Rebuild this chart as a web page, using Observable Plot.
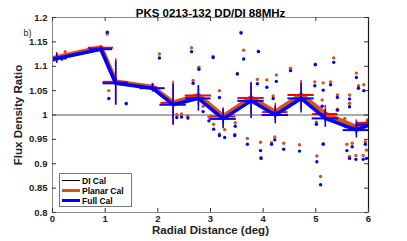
<!DOCTYPE html>
<html>
<head>
<meta charset="utf-8">
<script src="https://cdn.jsdelivr.net/npm/d3@7"></script>
<script src="https://cdn.jsdelivr.net/npm/@observablehq/plot@0.6"></script>
<style>
  html, body { margin: 0; padding: 0; background: #fff; }
  #wrap { position: relative; width: 407px; height: 241px; font-family: "Liberation Sans", Arial, sans-serif; }
  #legend { position: absolute; left: 59px; top: 173px; width: 73px; height: 34px; background: #fff; border: 1px solid #777; box-sizing: border-box; font: bold 8.5px "Liberation Sans", Arial, sans-serif; color: #000; }
  #legend .row { position: absolute; left: 2px; height: 10px; display: flex; align-items: center; }
  #legend .sw { width: 18px; margin-right: 2px; }
</style>
</head>
<body>
<div id="wrap"></div>
<script>
// ---- data ----
const title = "PKS 0213-132 DD/DI 88MHz";
const xLabel = "Radial Distance (deg)";
const yLabel = "Flux Density Ratio";
const panelTag = "b)";
const xTicks = [0, 1, 2, 3, 4, 5, 6];
const yTicks = [0.8, 0.85, 0.9, 0.95, 1, 1.05, 1.1, 1.15, 1.2];
const seriesNames = ["DI Cal", "Planar Cal", "Full Cal"];

// binned averages
const binX      = [0.0,   0.08,  0.92,  1.20,  1.90,  2.29,  2.77,  3.24,  3.77,  4.23,  4.72,  5.18,  5.77,  6.02];
const binFull   = [1.114, 1.116, 1.135, 1.065, 1.055, 1.021, 1.034, 0.992, 1.029, 1.000, 1.034, 0.993, 0.969, 0.980];
const binPlanar = [1.115, 1.118, 1.138, 1.068, 1.057, 1.025, 1.040, 0.997, 1.035, 1.006, 1.041, 1.002, 0.975, 0.984];
const errFull   = [0,     0.010, 0.004, 0.045, 0.008, 0.042, 0.026, 0.020, 0.036, 0.018, 0.030, 0.018, 0.016, 0.020];
const errPlanar = [0,     0.010, 0.004, 0.047, 0.008, 0.044, 0.020, 0.018, 0.032, 0.018, 0.030, 0.018, 0.015, 0.020];
const widFull   = [0,     0.07,  0.22,  0.24,  0.24,  0.25,  0.24,  0.25,  0.25,  0.25,  0.25,  0.25,  0.25,  0.25];
const widPlanar = [0,     0.06,  0.24,  0.24,  0.10,  0.23,  0.25,  0.24,  0.25,  0.24,  0.25,  0.24,  0.22,  0.25];

// individual sources
const srcX      = [0.02, 0.18, 0.24, 1.04, 1.07, 1.40, 1.90, 2.03, 2.36, 2.45, 2.57, 2.64, 2.67, 2.78, 2.86, 2.97, 3.05, 3.06, 3.17, 3.17, 3.27, 3.46, 3.47, 3.51, 3.58, 3.63, 3.70, 3.89, 3.91, 3.95, 3.96, 4.07, 4.16, 4.19, 4.22, 4.25, 4.39, 4.52, 4.69, 4.98, 4.99, 5.01, 5.02, 5.09, 5.12, 5.14, 5.14, 5.28, 5.34, 5.41, 5.41, 5.55, 5.59, 5.64, 5.64, 5.64, 5.69, 5.76, 5.77, 5.81, 5.90, 5.91, 5.94, 5.96, 5.98];
const srcPlanar = [1.113, 1.118, 1.130, 1.166, 1.050, 1.024, 1.062, 1.125, 1.001, 1.002, 0.998, 1.138, 1.071, 1.098, 1.018, 0.996, 1.120, 0.981, 1.050, 0.961, 0.970, 0.960, 0.984, 1.085, 1.170, 1.133, 0.952, 1.073, 1.131, 0.944, 0.913, 1.072, 0.943, 1.039, 0.955, 1.082, 0.942, 1.096, 0.939, 1.068, 1.104, 0.985, 0.916, 0.874, 1.031, 1.066, 0.941, 1.068, 1.117, 1.041, 1.012, 0.993, 0.940, 1.041, 1.024, 0.915, 0.942, 0.917, 1.086, 1.060, 0.917, 1.062, 0.945, 0.928, 0.990];
const srcFull   = [1.114, 1.115, 1.117, 1.170, 1.034, 1.023, 1.059, 1.117, 0.995, 0.996, 0.994, 1.130, 1.065, 1.094, 1.007, 0.988, 1.118, 0.971, 1.036, 0.958, 0.954, 0.958, 0.977, 1.084, 1.168, 1.115, 0.940, 1.064, 1.130, 0.927, 0.911, 1.057, 0.940, 1.034, 0.949, 1.069, 0.930, 1.091, 0.926, 1.060, 1.103, 0.981, 0.904, 0.857, 1.018, 1.051, 0.940, 1.062, 1.108, 1.036, 1.010, 0.986, 0.927, 1.033, 1.017, 0.911, 0.935, 0.909, 1.077, 1.055, 0.909, 1.050, 0.940, 0.911, 0.985];

// ---- tables ----
const bins = binX.map((x, i) => ({x, full: binFull[i], planar: binPlanar[i], ef: errFull[i], ep: errPlanar[i], wf: widFull[i], wp: widPlanar[i]}));
const srcs = srcX.map((x, i) => ({x, planar: srcPlanar[i], full: srcFull[i]}));
const barBins = bins.filter(d => d.ef > 0 || d.wf > 0);

const W = 407, H = 241, mL = 52, mR = 39, mT = 17, mB = 29;
const fw = W - mL - mR, fh = H - mT - mB;
const orange = "#D95319", blue = "#0000FF", red = "#FF0000";
const fmt = d => String(+d.toFixed(2));

const chart = Plot.plot({
  width: W, height: H,
  marginLeft: mL, marginRight: mR, marginTop: mT, marginBottom: mB,
  x: {domain: [xTicks[0], xTicks[xTicks.length - 1]]},
  y: {domain: [yTicks[0], yTicks[yTicks.length - 1]]},
  style: {fontFamily: "Liberation Sans, Arial, sans-serif", fontSize: "9.5px", fontWeight: "bold", color: "#222", background: "#fff"},
  marks: [
    Plot.ruleY([1], {stroke: "#444", strokeWidth: 0.9}),
    Plot.dot(srcs, {x: "x", y: "planar", r: 1.7, fill: orange, stroke: "none", clip: true}),
    Plot.dot(srcs, {x: "x", y: "full", r: 1.7, fill: blue, stroke: "none", clip: true}),
    Plot.line(bins, {x: "x", y: "planar", stroke: orange, strokeWidth: 5, clip: true}),
    Plot.ruleY(barBins, {y: "planar", x1: d => d.x - d.wp, x2: d => d.x + d.wp, stroke: red, strokeWidth: 2, clip: true}),
    Plot.ruleX(barBins, {x: "x", y1: d => d.planar - d.ep, y2: d => d.planar + d.ep, stroke: red, strokeWidth: 1.5, clip: true}),
    Plot.line(bins, {x: "x", y: "full", stroke: blue, strokeWidth: 3.5, clip: true}),
    Plot.ruleY(barBins, {y: "full", x1: d => d.x - d.wf, x2: d => d.x + d.wf, stroke: blue, strokeWidth: 2, clip: true}),
    Plot.ruleX(barBins, {x: "x", y1: d => d.full - d.ef, y2: d => d.full + d.ef, stroke: blue, strokeWidth: 1.6, clip: true}),
    Plot.frame({stroke: "#8a8a8a", strokeWidth: 1}),
    Plot.ruleX([xTicks[xTicks.length - 1]], {stroke: "#111", strokeWidth: 1.2}),
    // inward ticks, all four sides
    Plot.tickX(xTicks, {x: d => d, insetTop: fh - 4, stroke: "#333"}),
    Plot.tickX(xTicks, {x: d => d, insetBottom: fh - 4, stroke: "#333"}),
    Plot.tickY(yTicks, {y: d => d, insetRight: fw - 4, stroke: "#333"}),
    Plot.tickY(yTicks, {y: d => d, insetLeft: fw - 4, stroke: "#333"}),
    Plot.axisX({ticks: xTicks, tickSize: 0, tickPadding: 3, tickFormat: fmt, label: null}),
    Plot.axisY({ticks: yTicks, tickSize: 0, tickPadding: 5, tickFormat: fmt, label: null}),
    Plot.text([title], {frameAnchor: "top", dy: -9, fontSize: 11.5, fontWeight: "bold", fill: "#000"}),
    Plot.text([xLabel], {frameAnchor: "bottom", dy: 21, fontSize: 11.5, fontWeight: "bold", fill: "#222"}),
    Plot.text([yLabel], {frameAnchor: "left", dx: -34, rotate: -90, textAnchor: "middle", fontSize: 11.5, fontWeight: "bold", fill: "#222"}),
    Plot.text([panelTag], {frameAnchor: "top-left", dx: -29, dy: 12, fontSize: 9, fontWeight: "normal", fill: "#222"})
  ]
});

const wrap = document.getElementById("wrap");
wrap.appendChild(chart);

// legend
const legend = document.createElement("div");
legend.id = "legend";
const swatches = [{c: "#000", w: 1}, {c: orange, w: 3.5}, {c: blue, w: 3.5}];
seriesNames.forEach((name, i) => {
  const row = document.createElement("div");
  row.className = "row";
  row.style.top = (1.5 + i * 10) + "px";
  const sw = document.createElement("div");
  sw.className = "sw";
  sw.style.height = swatches[i].w + "px";
  sw.style.background = swatches[i].c;
  const t = document.createElement("span");
  t.textContent = name;
  row.appendChild(sw);
  row.appendChild(t);
  legend.appendChild(row);
});
wrap.appendChild(legend);
</script>
</body>
</html>
